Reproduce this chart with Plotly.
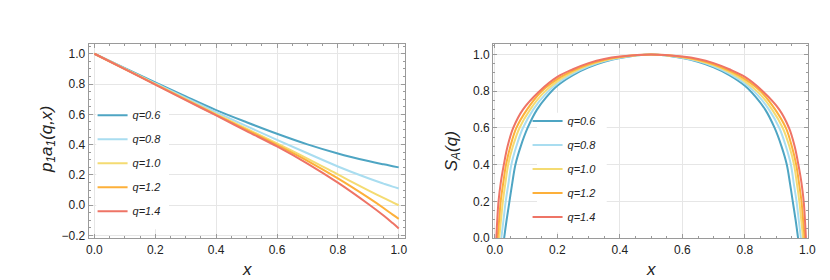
import plotly.graph_objects as go

# ---------------- data ----------------
Q_LABELS = ["q=0.6", "q=0.8", "q=1.0", "q=1.2", "q=1.4"]
COLORS = ["#4EA5C3", "#A9DDF0", "#F4DB72", "#FDB03A", "#EE7466"]

# left panel: p1 a1(q,x)
LX = [0, 0.1, 0.2, 0.3, 0.4, 0.5, 0.6, 0.7, 0.8, 0.9, 0.95, 0.98, 1.0]
P_Q06 = [1.0, 0.905, 0.811, 0.718, 0.628, 0.548, 0.472, 0.402, 0.342, 0.292, 0.270, 0.258, 0.250]
P_Q08 = [1.0, 0.902, 0.805, 0.709, 0.614, 0.522, 0.432, 0.343, 0.256, 0.178, 0.143, 0.123, 0.111]
P_Q10 = [1.0, 0.900, 0.800, 0.700, 0.602, 0.505, 0.408, 0.308, 0.203, 0.098, 0.048, 0.019, 0.0]
P_Q12 = [1.0, 0.899, 0.798, 0.697, 0.597, 0.498, 0.398, 0.293, 0.177, 0.050, -0.018, -0.062, -0.090]
P_Q14 = [1.0, 0.898, 0.796, 0.694, 0.593, 0.490, 0.388, 0.275, 0.149, 0.008, -0.068, -0.118, -0.153]
P_SERIES = [P_Q06, P_Q08, P_Q10, P_Q12, P_Q14]

# right panel: S_A(q) (x, y)
SA_X_Q06 = [0.030, 0.038, 0.047, 0.056, 0.066, 0.083, 0.105, 0.135, 0.165, 0.20, 0.25, 0.30, 0.35, 0.40, 0.50,
            0.60, 0.65, 0.70, 0.75, 0.80, 0.835, 0.865, 0.895, 0.917, 0.934, 0.944, 0.953, 0.962, 0.970]
SA_Y_Q06 = [0.0, 0.1, 0.2, 0.3, 0.4, 0.5, 0.6, 0.7, 0.768, 0.830, 0.888, 0.930, 0.960, 0.981, 1.0,
            0.981, 0.960, 0.930, 0.888, 0.830, 0.768, 0.7, 0.6, 0.5, 0.4, 0.3, 0.2, 0.1, 0.0]
SA_X_Q08 = [0.021, 0.028, 0.035, 0.044, 0.053, 0.069, 0.090, 0.123, 0.160, 0.20, 0.25, 0.30, 0.35, 0.40, 0.50,
            0.60, 0.65, 0.70, 0.75, 0.80, 0.840, 0.877, 0.910, 0.931, 0.947, 0.956, 0.965, 0.972, 0.979]
SA_Y_Q08 = [0.0, 0.1, 0.2, 0.3, 0.4, 0.5, 0.6, 0.7, 0.780, 0.842, 0.896, 0.936, 0.964, 0.983, 1.0,
            0.983, 0.964, 0.936, 0.896, 0.842, 0.780, 0.7, 0.6, 0.5, 0.4, 0.3, 0.2, 0.1, 0.0]
SA_X_Q10 = [0.014, 0.020, 0.026, 0.034, 0.043, 0.058, 0.079, 0.113, 0.155, 0.20, 0.25, 0.30, 0.35, 0.40, 0.50,
            0.60, 0.65, 0.70, 0.75, 0.80, 0.845, 0.887, 0.921, 0.942, 0.957, 0.966, 0.974, 0.980, 0.986]
SA_Y_Q10 = [0.0, 0.1, 0.2, 0.3, 0.4, 0.5, 0.6, 0.7, 0.790, 0.854, 0.904, 0.942, 0.968, 0.985, 1.0,
            0.985, 0.968, 0.942, 0.904, 0.854, 0.790, 0.7, 0.6, 0.5, 0.4, 0.3, 0.2, 0.1, 0.0]
SA_X_Q12 = [0.009, 0.014, 0.019, 0.027, 0.036, 0.050, 0.069, 0.103, 0.150, 0.20, 0.25, 0.30, 0.35, 0.40, 0.50,
            0.60, 0.65, 0.70, 0.75, 0.80, 0.850, 0.897, 0.931, 0.950, 0.964, 0.973, 0.981, 0.986, 0.991]
SA_Y_Q12 = [0.0, 0.1, 0.2, 0.3, 0.4, 0.5, 0.6, 0.7, 0.8, 0.866, 0.912, 0.947, 0.972, 0.987, 1.0,
            0.987, 0.972, 0.947, 0.912, 0.866, 0.8, 0.7, 0.6, 0.5, 0.4, 0.3, 0.2, 0.1, 0.0]
SA_X_Q14 = [0.005, 0.008, 0.012, 0.019, 0.029, 0.041, 0.059, 0.090, 0.143, 0.20, 0.25, 0.30, 0.35, 0.40, 0.50,
            0.60, 0.65, 0.70, 0.75, 0.80, 0.857, 0.910, 0.941, 0.959, 0.971, 0.981, 0.988, 0.992, 0.995]
SA_Y_Q14 = [0.0, 0.1, 0.2, 0.3, 0.4, 0.5, 0.6, 0.7, 0.8, 0.878, 0.920, 0.953, 0.976, 0.989, 1.0,
            0.989, 0.976, 0.953, 0.920, 0.878, 0.8, 0.7, 0.6, 0.5, 0.4, 0.3, 0.2, 0.1, 0.0]
SA_X = [SA_X_Q06, SA_X_Q08, SA_X_Q10, SA_X_Q12, SA_X_Q14]
SA_Y = [SA_Y_Q06, SA_Y_Q08, SA_Y_Q10, SA_Y_Q12, SA_Y_Q14]

X_TICKS = [0, 0.2, 0.4, 0.6, 0.8, 1.0]
Y_TICKS_L = [-0.2, 0, 0.2, 0.4, 0.6, 0.8, 1.0]
Y_TICKS_R = [0, 0.2, 0.4, 0.6, 0.8, 1.0]

# ---------------- figure ----------------
W, H = 830, 280
fig = go.Figure()

for i in range(5):
    fig.add_trace(go.Scatter(
        x=LX, y=P_SERIES[i], mode="lines", name=Q_LABELS[i],
        line=dict(color=COLORS[i], width=2, shape="spline"),
        xaxis="x", yaxis="y", legend="legend", legendgroup="L%d" % i,
    ))
for i in range(5):
    fig.add_trace(go.Scatter(
        x=SA_X[i], y=SA_Y[i], mode="lines", name=Q_LABELS[i],
        line=dict(color=COLORS[i], width=2, shape="spline"),
        xaxis="x2", yaxis="y2", legend="legend2", legendgroup="R%d" % i,
    ))

def px(v):
    return v / W

def py(v):
    return (H - v) / H

tickfont = dict(family="Liberation Sans, Arial, sans-serif", size=12, color="#222")
common = dict(
    showline=True, linecolor="#9a9a9a", linewidth=1, mirror="ticks",
    ticks="inside", ticklen=4, tickcolor="#9a9a9a", tickwidth=1,
    showgrid=True, gridcolor="#e6e6e6", gridwidth=1,
    zeroline=False, tickfont=tickfont, tickformat=".1f",
    minor=dict(ticks="inside", ticklen=2, tickcolor="#9a9a9a", dtick=0.05, showgrid=False),
)

legfont = dict(family="Liberation Sans, Arial, sans-serif", size=11, color="#222", style="italic")
fig.update_layout(
    width=W, height=H, margin=dict(l=0, r=0, t=0, b=0),
    paper_bgcolor="white", plot_bgcolor="white", showlegend=True,
    xaxis=dict(domain=[px(75), px(397)], range=[-0.019, 1.02], tickvals=X_TICKS, anchor="y", **common),
    yaxis=dict(domain=[py(236), py(37)], range=[-0.217, 1.064], tickvals=Y_TICKS_L, anchor="x", **common),
    xaxis2=dict(domain=[px(487), px(808)], range=[-0.005, 1.003], tickvals=X_TICKS, anchor="y2", **common),
    yaxis2=dict(domain=[py(236), py(37)], range=[0, 1.057], tickvals=Y_TICKS_R, anchor="x2", **common),
    legend=dict(x=px(79), y=py(95), xanchor="left", yanchor="top", bgcolor="rgba(0,0,0,0)",
                borderwidth=0, itemwidth=30, tracegroupgap=5, font=legfont),
    legend2=dict(x=px(522), y=py(101), xanchor="left", yanchor="top", bgcolor="rgba(0,0,0,0)",
                 borderwidth=0, itemwidth=30, tracegroupgap=5, font=legfont),
)

# white legend backgrounds that hide the grid but not the curves
fig.add_shape(type="rect", xref="x", yref="y", x0=0.006, x1=0.245, y0=-0.159, y1=0.614,
              fillcolor="white", line=dict(width=0), layer="between")
fig.add_shape(type="rect", xref="x2", yref="y2", x0=0.135, x1=0.358, y0=0.032, y1=0.683,
              fillcolor="white", line=dict(width=0), layer="between")

title_font = dict(family="Liberation Sans, Arial, sans-serif", size=17, color="#222")
fig.add_annotation(text="<i>x</i>", xref="paper", yref="paper", x=px(236), y=py(268),
                   showarrow=False, font=title_font, xanchor="center", yanchor="middle")
fig.add_annotation(text="<i>x</i>", xref="paper", yref="paper", x=px(648), y=py(268),
                   showarrow=False, font=title_font, xanchor="center", yanchor="middle")
fig.add_annotation(text="<i>p<sub>1</sub>a<sub>1</sub>(q,x)</i>", xref="paper", yref="paper",
                   x=px(33), y=py(135), textangle=-90, showarrow=False, font=title_font,
                   xanchor="center", yanchor="middle")
fig.add_annotation(text="<i>S<sub>A</sub>(q)</i>", xref="paper", yref="paper",
                   x=px(446), y=py(147), textangle=-90, showarrow=False, font=title_font,
                   xanchor="center", yanchor="middle")

fig.write_html("out.html")
